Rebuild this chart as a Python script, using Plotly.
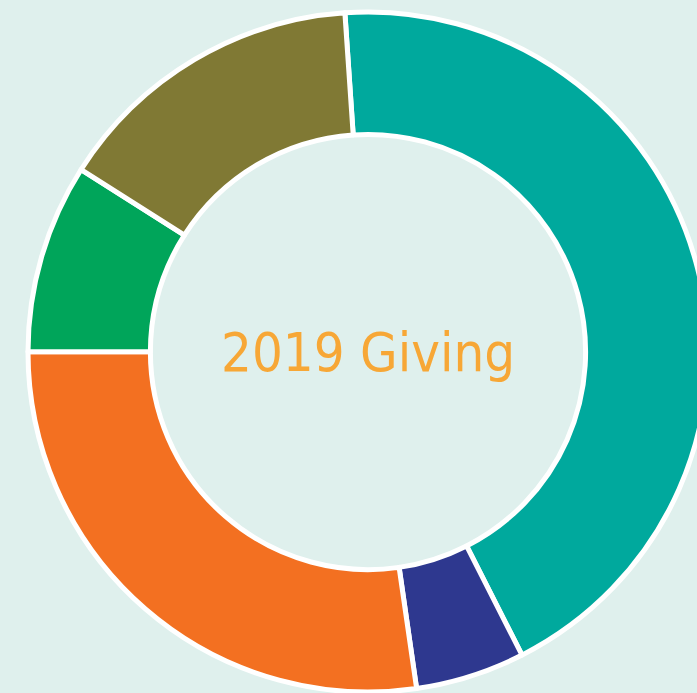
import plotly.graph_objects as go

categories = ["Teal", "Navy", "Orange", "Green", "Olive"]
values = [43.6, 5.2, 27.3, 9.0, 14.9]
colors = ["#00a99d", "#2e388f", "#f37021", "#00a55a", "#807934"]
center_label = "2019 Giving"

fig = go.Figure(
    go.Pie(
        labels=categories,
        values=values,
        hole=0.64,
        sort=False,
        direction="clockwise",
        rotation=-3.9,
        marker=dict(colors=colors, line=dict(color="white", width=5)),
        textinfo="none",
        hoverinfo="label+percent",
        showlegend=False,
    )
)

fig.add_annotation(
    text=center_label,
    x=0.5, y=0.5, xref="paper", yref="paper",
    xanchor="center", yanchor="middle",
    showarrow=False,
    font=dict(family="DejaVu Sans Condensed, Roboto",
              size=54, color="#f7a736"),
)

fig.update_layout(
    width=710,
    height=693,
    autosize=False,
    margin=dict(l=28, r=2, t=12, b=1, pad=0),
    paper_bgcolor="#dff0ed",
    plot_bgcolor="#dff0ed",
)

fig.write_html(
    "out.html",
    config={"displayModeBar": False},
    post_script="document.body.style.margin='0';document.body.style.overflow='hidden';"
                "document.body.style.background='#dff0ed';",
)
